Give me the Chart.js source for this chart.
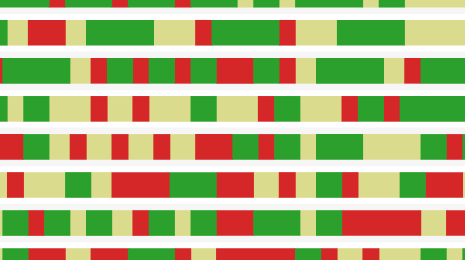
<!DOCTYPE html>
<html>
<head>
<meta charset="utf-8">
<script src="https://cdn.jsdelivr.net/npm/chart.js@4.4.1/dist/chart.umd.min.js"></script>
<style>
    html, body { margin: 0; padding: 0; background: #fff; }
    #wrap { position: relative; width: 465px; height: 260px; overflow: hidden; }
</style>
</head>
<body>
<div id="wrap"><canvas id="timeline"></canvas></div>
<script>
// State runs per row: edges are in days, states use G / R / K
const row0Edges = [-1, 2.22, 3, 5.22, 6, 8.22, 9, 11.22, 12, 13.22, 14, 17.22, 18, 19.22, 23];
const row0States = ['G', 'R', 'G', 'R', 'G', 'R', 'G', 'K', 'G', 'K', 'G', 'K', 'G', 'K'];

const row1Edges = [-1, 0.22, 1.22, 3, 4, 7.22, 9.22, 10, 13.22, 14, 16, 19.22, 23];
const row1States = ['G', 'K', 'R', 'K', 'G', 'K', 'R', 'G', 'R', 'K', 'G', 'K'];

const row2Edges = [-1, 0, 3.22, 4.22, 5, 6.22, 7, 8.22, 9, 10.22, 12, 13.22, 14, 15, 18.22, 19.22, 20, 23];
const row2States = ['R', 'G', 'K', 'R', 'G', 'R', 'G', 'R', 'G', 'R', 'G', 'R', 'K', 'G', 'K', 'R', 'G'];

const row3Edges = [-1, 0.22, 1, 2.22, 4.22, 5, 6.22, 7, 9, 10.22, 12.22, 13, 14.22, 16.22, 17, 18.22, 19, 23];
const row3States = ['G', 'K', 'G', 'K', 'R', 'K', 'R', 'K', 'G', 'K', 'R', 'G', 'K', 'R', 'G', 'R', 'G'];

const row4Edges = [-1, 1, 2.22, 3.22, 4, 5.22, 6, 7.22, 8, 9.22, 11, 12.22, 13, 14.22, 15, 17.22, 20, 21.22, 22, 23];
const row4States = ['R', 'G', 'K', 'R', 'K', 'R', 'K', 'R', 'K', 'R', 'G', 'R', 'G', 'K', 'G', 'K', 'G', 'R', 'G'];

const row5Edges = [-1, 0.22, 1, 3, 4.22, 5.22, 8, 10.22, 12, 13.22, 14, 15, 16.22, 17, 19, 20.22, 22, 23];
const row5States = ['K', 'R', 'K', 'G', 'K', 'R', 'G', 'R', 'K', 'R', 'K', 'G', 'R', 'K', 'G', 'R', 'K'];

const row6Edges = [-1, 0, 1.22, 2, 3.22, 4, 5.22, 6.22, 7, 8.22, 9, 10.22, 12, 14.22, 15, 16.22, 20, 21.22, 23];
const row6States = ['K', 'G', 'R', 'G', 'K', 'G', 'K', 'R', 'G', 'K', 'G', 'R', 'G', 'K', 'G', 'R', 'K', 'R'];

const row7Edges = [-1, 0, 1.22, 3, 4.22, 6, 8.22, 9, 10.22, 14, 15.22, 16, 17.22, 18, 20, 21.22, 22, 23];
const row7States = ['K', 'G', 'R', 'K', 'R', 'G', 'R', 'K', 'R', 'G', 'R', 'K', 'R', 'K', 'G', 'K', 'G'];

const allEdges = [row0Edges, row1Edges, row2Edges, row3Edges, row4Edges, row5Edges, row6Edges, row7Edges];
const allStates = [row0States, row1States, row2States, row3States, row4States, row5States, row6States, row7States];
const shadedRows = [0, 2, 4, 6];

const stateColors = { G: '#2ca02c', R: '#d62728', K: '#dbdb8d' };

// turn edges + states into floating bars, one dataset per state
const segments = { G: [], R: [], K: [] };
allEdges.forEach((edges, row) => {
    allStates[row].forEach((state, i) => {
        segments[state].push({ x: [edges[i], edges[i + 1]], y: row });
    });
});

const datasets = Object.keys(segments).map(state => ({
    label: state,
    data: segments[state],
    backgroundColor: stateColors[state],
    borderWidth: 0,
    barThickness: 25,
    grouped: false,
    order: 1
}));

// light stripes behind every other row
datasets.push({
    label: 'band',
    data: shadedRows.map(row => ({ x: [-1, 23], y: row })),
    backgroundColor: '#f6f6f6',
    borderWidth: 0,
    barThickness: 38,
    grouped: false,
    order: 5
});

new Chart(document.getElementById('timeline'), {
    type: 'bar',
    data: { datasets },
    options: {
        indexAxis: 'y',
        responsive: true,
        maintainAspectRatio: false,
        animation: false,
        layout: { padding: 0 },
        plugins: { legend: { display: false }, tooltip: { enabled: false } },
        scales: {
            x: { type: 'linear', display: false, offset: false, min: -0.129, max: 22.11 },
            y: { type: 'linear', display: false, offset: false, min: 0.139, max: 6.972, reverse: true }
        }
    }
});
</script>
</body>
</html>
